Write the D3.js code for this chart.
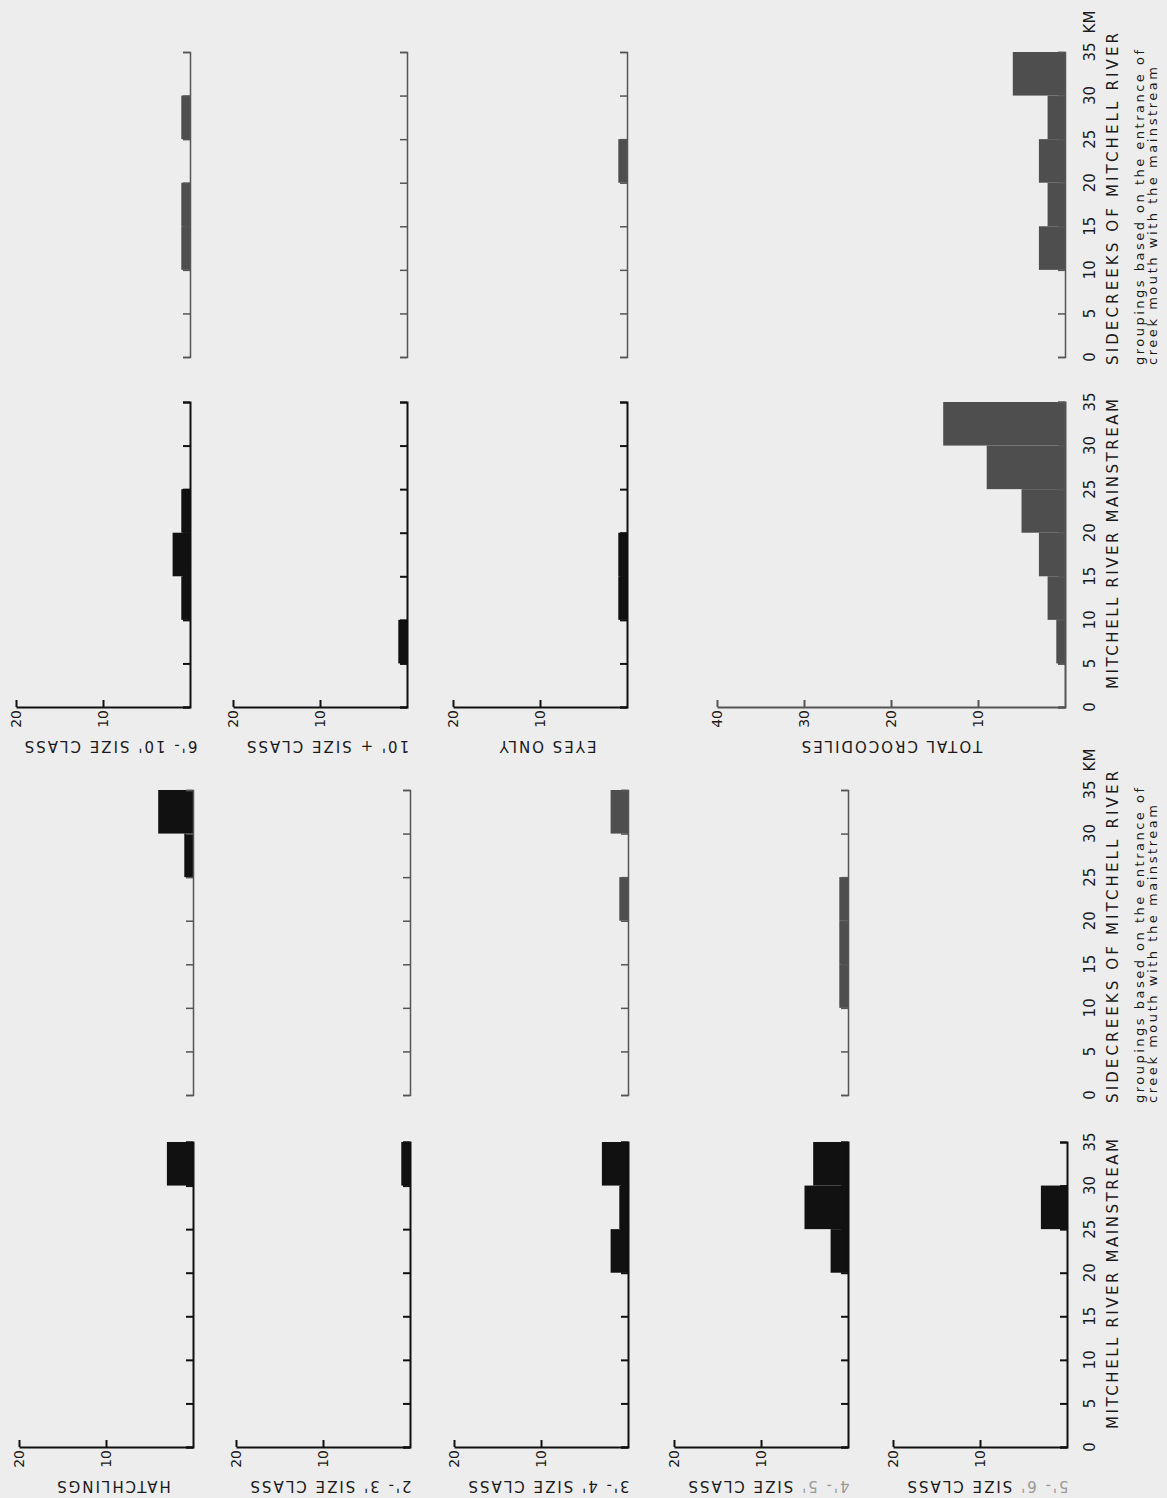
<!DOCTYPE html>
<html>
<head>
<meta charset="utf-8">
<script src="https://cdn.jsdelivr.net/npm/d3@7"></script>
<style>
  body { margin: 0; background: #ededed; }
  text { font-family: "DejaVu Sans", sans-serif; fill: #1a1a1a; }
</style>
</head>
<body>
<svg id="chart"></svg>
<script>
// km groupings along the river (lower edge of each 5 km bin)
const binStarts = [0, 5, 10, 15, 20, 25, 30];
const kmTicks = [0, 5, 10, 15, 20, 25, 30, 35];
const valueTicks = [10, 20];
const totalTicks = [10, 20, 30, 40];

const classNames = ["HATCHLINGS", "2'- 3' SIZE CLASS", "3'- 4' SIZE CLASS", "4'- 5' SIZE CLASS",
  "5'- 6' SIZE CLASS", "6'- 10' SIZE CLASS", "10' + SIZE CLASS", "EYES  ONLY", "TOTAL  CROCODILES"];

// number of crocodiles per 5 km bin, mainstream and sidecreeks
const hatchMain = [0, 0, 0, 0, 0, 0, 3];
const hatchSide = [0, 0, 0, 0, 0, 1, 4];
const c23Main = [0, 0, 0, 0, 0, 0, 1];
const c23Side = [0, 0, 0, 0, 0, 0, 0];
const c34Main = [0, 0, 0, 0, 2, 1, 3];
const c34Side = [0, 0, 0, 0, 1, 0, 2];
const c45Main = [0, 0, 0, 0, 2, 5, 4];
const c45Side = [0, 0, 1, 1, 1, 0, 0];
const c56Main = [0, 0, 0, 0, 0, 3, 0];
const c610Main = [0, 0, 1, 2, 1, 0, 0];
const c610Side = [0, 0, 1, 1, 0, 1, 0];
const c10Main = [0, 1, 0, 0, 0, 0, 0];
const c10Side = [0, 0, 0, 0, 0, 0, 0];
const eyesMain = [0, 0, 1, 1, 0, 0, 0];
const eyesSide = [0, 0, 0, 0, 1, 0, 0];
const totalMain = [0, 1, 2, 3, 5, 9, 14];
const totalSide = [0, 0, 3, 2, 3, 2, 6];

const width = 1167, height = 1498;
const ink = "#111", grey = "#4e4e4e", axisGrey = "#555";
const pxPerUnit = 8.7;
const kmLen = 305;

// two halves of the sheet: km zero of mainstream and sidecreeks axes
const halves = [
  { mainZero: 707, sideZero: 357, labelY: 746 },
  { mainZero: 1447, sideZero: 1095, labelY: 1486 }
];

const panels = [
  { name: classNames[0], main: hatchMain, side: hatchSide, base: 193, half: 1, sideCol: ink, fadeTop: true },
  { name: classNames[1], main: c23Main, side: c23Side, base: 410, half: 1, sideCol: grey },
  { name: classNames[2], main: c34Main, side: c34Side, base: 628, half: 1, sideCol: grey },
  { name: classNames[3], main: c45Main, side: c45Side, base: 848, half: 1, sideCol: grey, fadeName: 6 },
  { name: classNames[4], main: c56Main, side: null, base: 1067, half: 1, fadeName: 6 },
  { name: classNames[5], main: c610Main, side: c610Side, base: 190, half: 0, sideCol: grey },
  { name: classNames[6], main: c10Main, side: c10Side, base: 407, half: 0, sideCol: grey },
  { name: classNames[7], main: eyesMain, side: eyesSide, base: 627, half: 0, sideCol: grey, fadeTop: true },
  { name: classNames[8], main: totalMain, side: totalSide, base: 1065, half: 0, max: 40, ticks: totalTicks, mainCol: grey, sideCol: grey, lightAxis: true }
];

const svg = d3.select("#chart").attr("width", width).attr("height", height);
svg.append("rect").attr("width", width).attr("height", height).attr("fill", "#ededed");

function drawBars(g, values, x, y, color) {
  const rows = binStarts.map((s, i) => ({ s, v: values[i] })).filter(d => d.v > 0);
  g.selectAll(null)
    .data(rows)
    .enter()
    .append("rect")
    .attr("x", d => x(d.v))
    .attr("y", d => y(d.s + 5))
    .attr("width", d => x(0) - x(d.v))
    .attr("height", d => y(d.s) - y(d.s + 5))
    .attr("fill", color);
}

function kmAxis(g, y, base, color, w) {
  const a = g.append("g")
    .attr("transform", `translate(${base},0)`)
    .call(d3.axisLeft(y).tickValues(kmTicks).tickSize(7).tickSizeOuter(7).tickFormat(""));
  a.selectAll("path, line").attr("stroke", color).attr("stroke-width", w);
}

panels.forEach(p => {
  const h = halves[p.half];
  const max = p.max || 20;
  const g = svg.append("g");

  const x = d3.scaleLinear().domain([0, max]).range([p.base, p.base - pxPerUnit * max]);
  const yMain = d3.scaleLinear().domain([0, 35]).range([h.mainZero, h.mainZero - kmLen]);

  drawBars(g, p.main, x, yMain, p.mainCol || ink);
  kmAxis(g, yMain, p.base, p.lightAxis ? axisGrey : ink, 2);

  // count axis along the bottom of the mainstream plot
  const va = g.append("g")
    .attr("transform", `translate(0,${h.mainZero})`)
    .call(d3.axisBottom(x).tickValues(p.ticks || valueTicks).tickSize(-7).tickSizeOuter(0));
  va.selectAll("path, line").attr("stroke", p.lightAxis ? axisGrey : ink).attr("stroke-width", 2);
  va.selectAll("text")
    .attr("transform", "rotate(-90)")
    .attr("x", -3).attr("y", 0).attr("dy", "0.35em")
    .attr("text-anchor", "end")
    .style("font-size", "14px")
    .attr("fill", d => (p.lightAxis || (p.fadeTop && d === 20)) ? "#8a8a8a" : ink);

  if (p.side) {
    const ySide = d3.scaleLinear().domain([0, 35]).range([h.sideZero, h.sideZero - kmLen]);
    drawBars(g, p.side, x, ySide, p.sideCol);
    kmAxis(g, ySide, p.base, axisGrey, 1.5);
  }

  const cx = p.max ? (x(0) + x(max)) / 2 : p.base - 80;
  const label = g.append("text")
    .attr("transform", `translate(${cx},${h.labelY}) rotate(180)`)
    .attr("text-anchor", "middle")
    .attr("dominant-baseline", "central")
    .style("font-size", "15px")
    .style("letter-spacing", "2px");
  if (p.fadeName) {
    label.append("tspan").attr("fill", "#9a9a9a").text(p.name.slice(0, p.fadeName));
    label.append("tspan").text(p.name.slice(p.fadeName));
  } else {
    label.text(p.name);
  }
});

// km labels and titles on the right edge
const labelX = 1090;
function vtext(x, y, str, size, anchor, len) {
  const t = svg.append("text")
    .attr("transform", `translate(${x},${y}) rotate(-90)`)
    .attr("text-anchor", anchor)
    .attr("dominant-baseline", "central")
    .style("font-size", size + "px")
    .text(str);
  if (len) t.attr("textLength", len).attr("lengthAdjust", "spacing");
  return t;
}

halves.forEach(h => {
  const yMain = d3.scaleLinear().domain([0, 35]).range([h.mainZero, h.mainZero - kmLen]);
  const ySide = d3.scaleLinear().domain([0, 35]).range([h.sideZero, h.sideZero - kmLen]);
  kmTicks.forEach(t => {
    vtext(labelX, yMain(t), t, 15, "middle");
    vtext(labelX, ySide(t), t, 15, "middle");
  });
  vtext(labelX, ySide(35) - 30, "KM", 15, "middle");
  vtext(1113, yMain(0) - 18, "MITCHELL  RIVER  MAINSTREAM", 15, "start", 290);
  vtext(1113, ySide(0) + 8, "SIDECREEKS  OF  MITCHELL  RIVER", 15, "start", 332);
  vtext(1139, ySide(0) + 8, "groupings  based  on  the  entrance  of", 13, "start", 315);
  vtext(1152, ySide(0) + 8, "creek  mouth  with  the  mainstream", 13, "start", 298);
});
</script>
</body>
</html>
